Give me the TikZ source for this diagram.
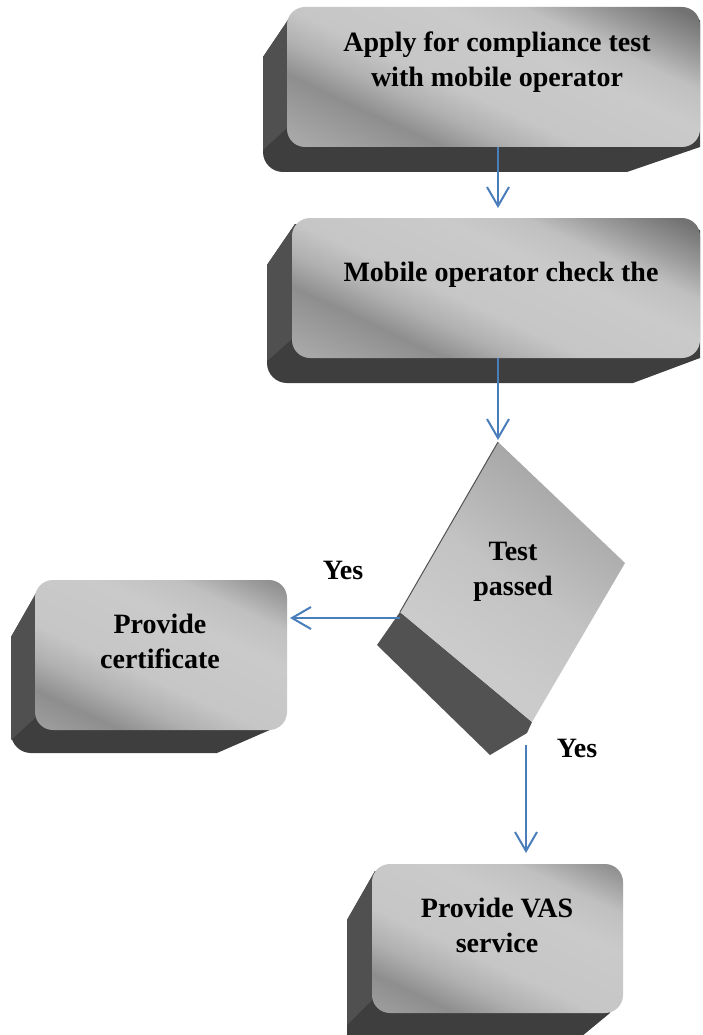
\documentclass[tikz,border=0pt]{standalone}
\usepackage{fontspec}
\setmainfont{Liberation Serif}
\usetikzlibrary{arrows.meta}
\definecolor{arrowblue}{HTML}{4A7EBB}
\definecolor{darkbottom}{HTML}{3E3E3E}
\definecolor{darkleft}{HTML}{505050}
\definecolor{darkdec}{HTML}{525252}
\definecolor{g1}{HTML}{A8A8A8}
\definecolor{g2}{HTML}{9A9A9A}
\definecolor{g3}{HTML}{8E8E8E}
\definecolor{g4}{HTML}{B0B0B0}
\definecolor{g5}{HTML}{C6C6C6}
\definecolor{g6}{HTML}{CACACA}
\definecolor{g7}{HTML}{C0C0C0}
\definecolor{g8}{HTML}{9A9A9A}
\definecolor{g9}{HTML}{727272}
\definecolor{dA}{HTML}{CBCBCB}
\definecolor{dB}{HTML}{C3C3C3}
\definecolor{dC}{HTML}{B3B3B3}
\definecolor{dD}{HTML}{9E9E9E}
% 600pt square -> 1bp of shading = 12pt; p = 50 + d/12
\pgfdeclareverticalshading{faceaxis}{100bp}{color(0bp)=(g1); color(38.33bp)=(g1); color(40.83bp)=(g2); color(42.92bp)=(g3); color(45.42bp)=(g4); color(47.92bp)=(g5); color(53.33bp)=(g6); color(56.25bp)=(g7); color(58.75bp)=(g8); color(61.67bp)=(g9); color(100bp)=(g9)}
\pgfdeclareverticalshading{decaxis}{100bp}{color(0bp)=(dA); color(43bp)=(dA); color(50bp)=(dB); color(55bp)=(dC); color(62bp)=(dD); color(100bp)=(dD)}
\begin{document}
\begin{tikzpicture}[x=1pt,y=-1pt,
  facebox/.style={inner sep=0pt, outer sep=0pt, draw=none},
  bottomside/.style={fill=darkbottom},
  leftside/.style={fill=darkleft},
  faceshade/.style={shading=faceaxis, transform canvas={rotate around={-25:(#1.center)}}},
  txt/.style={font=\fontsize{28}{35}\selectfont\bfseries, align=center, inner sep=0pt, text=black},
  arr/.style={draw=arrowblue, line width=2pt, -{Straight Barb[length=19pt,width=22pt,line width=2pt]}}]
\clip (0,0) rectangle (702,1035);
\fill[white] (0,0) rectangle (702,1035);

% ---------- box 1 ----------
\fill[bottomside] (290,17) -- (263,57) [rounded corners=20pt] -- (263,172) [sharp corners] -- (627,172) -- (700,147) -- (700,20) -- cycle;
\fill[leftside] (290,17) -- (263,57) -- (263,150) -- (287,128) -- cycle;
\node[facebox, minimum width=413pt, minimum height=140pt] (f1) at (493.5,77) {};
\begin{scope}
\clip[rounded corners=18pt] (f1.south west) rectangle (f1.north east);
\shade[faceshade=f1] (f1.center) ++(-300,-300) rectangle ++(600,600);
\end{scope}
\node[txt] (t1) at (497,62) {Apply for compliance test\\with mobile operator};

% ---------- box 2 ----------
\fill[bottomside] (295,224) -- (267,265) [rounded corners=20pt] -- (267,383) [sharp corners] -- (633,383) -- (700,358) -- (700,230) -- cycle;
\fill[leftside] (295,224) -- (267,265) -- (267,361) -- (292,339) -- cycle;
\node[facebox, minimum width=408pt, minimum height=140pt] (f2) at (496,288) {};
\begin{scope}
\clip[rounded corners=18pt] (f2.south west) rectangle (f2.north east);
\shade[faceshade=f2] (f2.center) ++(-300,-300) rectangle ++(600,600);
\end{scope}
\node[txt] (t2) at (501,275) {Mobile operator check the};

% ---------- decision ----------
\coordinate (dT) at (498,442);
\coordinate (dR) at (625,563);
\coordinate (dB) at (532,722);
\coordinate (dL) at (400,612);
\coordinate (dC) at (513,582);
\fill[darkdec] (dL) -- (377,645) -- (490,755) -- (527,733) -- (dB) -- cycle;
\begin{scope}
\clip (dT) -- (dR) -- (dB) -- (dL) -- cycle;
\shade[shading=decaxis, transform canvas={rotate around={-35:(dC)}}] (dC) ++(-300,-300) rectangle ++(600,600);
\end{scope}
\draw[darkdec, line width=1pt] (dL) -- (dT);
\node[txt] (dec) at (513,572) {Test\\passed};

% ---------- box 3 ----------
\fill[bottomside] (39,588) -- (11,637) [rounded corners=20pt] -- (11,753) [sharp corners] -- (217,753) -- (272,729) -- (272,600) -- cycle;
\fill[leftside] (39,588) -- (11,637) -- (11,740) -- (35,718) -- cycle;
\node[facebox, minimum width=252pt, minimum height=150pt] (f3) at (161,655) {};
\begin{scope}
\clip[rounded corners=18pt] (f3.south west) rectangle (f3.north east);
\shade[faceshade=f3] (f3.center) ++(-300,-300) rectangle ++(600,600);
\end{scope}
\node[txt] (t3) at (160,641) {Provide\\certificate};

% ---------- box 4 ----------
\fill[bottomside] (375,871) -- (347,920) [rounded corners=20pt] -- (347,1060) [sharp corners] -- (553,1060) -- (610,1013) -- (610,880) -- cycle;
\fill[leftside] (375,871) -- (347,920) -- (347,1025) -- (372,1000) -- cycle;
\node[facebox, minimum width=251pt, minimum height=149pt] (f4) at (497.5,938.5) {};
\begin{scope}
\clip[rounded corners=18pt] (f4.south west) rectangle (f4.north east);
\shade[faceshade=f4] (f4.center) ++(-300,-300) rectangle ++(600,600);
\end{scope}
\node[txt] (t4) at (497,925) {Provide VAS\\service};

% ---------- connectors ----------
\coordinate (yL) at (400,618);
\coordinate (yB) at (526,745);
\draw[arr] (f1.south -| dT) -- ([yshift=10pt]f2.north -| dT);
\draw[arr] (f2.south -| dT) -- ([yshift=2pt]dT);
\draw[arr, shorten >=3pt] (yL) -- (yL -| f3.east);
\draw[arr, shorten >=11pt] (yB) -- (yB |- f4.north);

\node[txt] (y1) at (343,570) {Yes};
\node[txt] (y2) at (577,748) {Yes};
\end{tikzpicture}
\end{document}
